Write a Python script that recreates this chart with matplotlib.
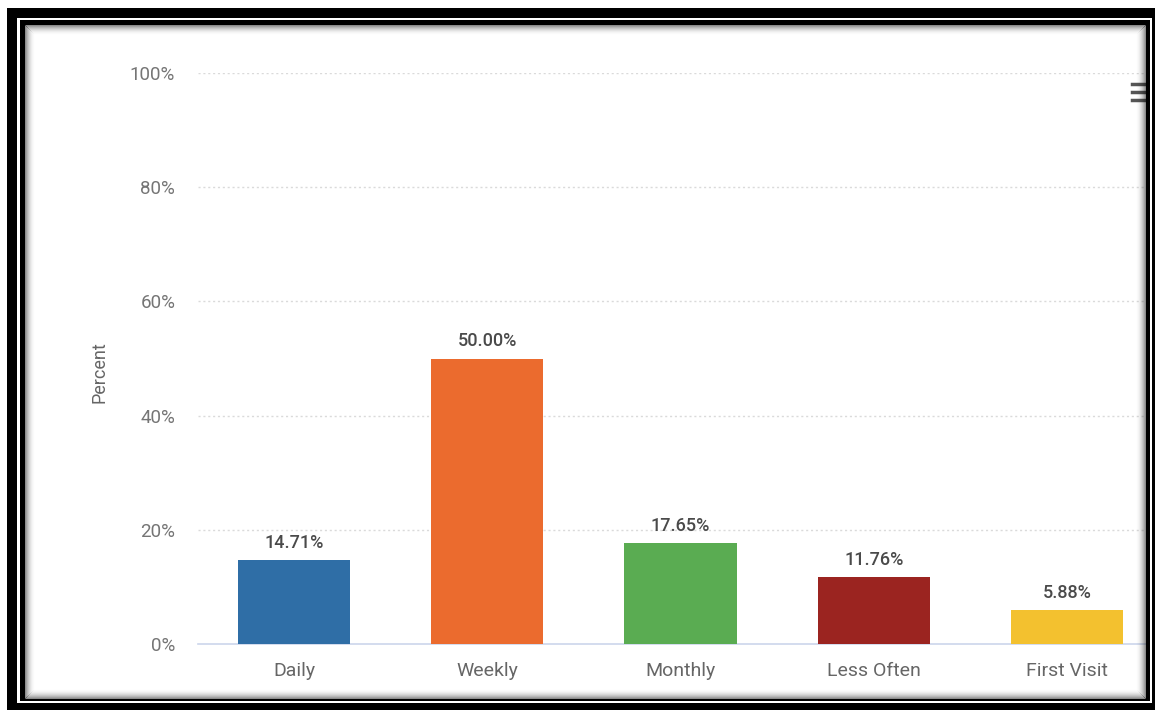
import matplotlib
matplotlib.use("Agg")
from matplotlib import pyplot as plt
from matplotlib.patches import Rectangle
from matplotlib.lines import Line2D

categories = ["Daily", "Weekly", "Monthly", "Less Often", "First Visit"]
percents = [14.71, 50.00, 17.65, 11.76, 5.88]
colors = ["#2f6ea6", "#eb6b2e", "#5aac52", "#9b2420", "#f3c12f"]
yticks = [0, 20, 40, 60, 80, 100]

plt.rcParams['font.family'] = ['Roboto', 'DejaVu Sans']

W, H = 1155, 710
fig = plt.figure(figsize=(W / 100, H / 100), dpi=100)
fig.patch.set_facecolor("white")


def px_rect(x0, y0, x1, y1, color, alpha=1.0):
    # rectangle in pixel coords measured from the top-left corner
    fig.add_artist(Rectangle((x0 / W, 1 - y1 / H), (x1 - x0) / W, (y1 - y0) / H,
                             transform=fig.transFigure, facecolor=color,
                             edgecolor="none", alpha=alpha, zorder=5))


ax_left, ax_right, ax_top, ax_bot = 197.5, 1163.5, 73, 644
ax = fig.add_axes([ax_left / W, 1 - ax_bot / H, (ax_right - ax_left) / W, (ax_bot - ax_top) / H])

x = range(len(categories))
bars = ax.bar(x, percents, width=0.58, color=colors, zorder=3)
for xi, v in zip(x, percents):
    ax.annotate(f"{v:.2f}%", (xi, v), xytext=(0, 6), textcoords="offset points",
                ha="center", va="bottom", fontsize=13, color="#4a4a4a", fontweight="medium")

ax.set_xlim(-0.5, len(categories) - 0.5)
ax.set_ylim(0, 100)
ax.set_yticks(yticks)
ax.set_yticklabels([f"{t}%" for t in yticks])
ax.set_xticks(list(x))
ax.set_xticklabels(categories)
ax.tick_params(axis="y", length=0, pad=16, labelsize=13.5, labelcolor="#757575")
ax.tick_params(axis="x", length=0, pad=13, labelsize=14, labelcolor="#666666")
for t in yticks[1:]:
    ax.axhline(t, color="#dadada", lw=1.0, ls=(0, (1.5, 2)), zorder=1)
for s in ["top", "right", "left"]:
    ax.spines[s].set_visible(False)
ax.spines["bottom"].set_color("#ccd6eb")
ax.spines["bottom"].set_linewidth(1.2)

fig.text(100 / W, 1 - 372 / H, "Percent", rotation=90, ha="center", va="center",
         fontsize=13, color="#666666")

# hamburger menu icon
for yy in [84, 92, 100]:
    fig.add_artist(Line2D([1132 / W, 1145 / W], [1 - yy / H, 1 - yy / H],
                          transform=fig.transFigure, color="#555555", lw=2.5, zorder=4))

# screenshot frame: white margin, thick black border, thin inner line, shadow
px_rect(0, 0, W, 8, "white")
px_rect(0, 0, 7, H, "white")
px_rect(1146, 0, W, H, "white")
px_rect(7, 8, W, 18, "black")
px_rect(7, 8, 17, H, "black")
px_rect(1152, 8, W, H, "black")
px_rect(7, 703, W, H, "black")
px_rect(17, 18, 1152, 20, "white")
px_rect(17, 18, 20, 703, "white")
px_rect(1150, 18, 1152, 703, "white")
px_rect(17, 701, 1152, 703, "white")
for i in range(10):
    a = 0.45 * (1 - i / 10) ** 2
    px_rect(25 + i, 25 + i, 26 + i, 699 - i, "black", a)
    px_rect(25 + i, 25 + i, 1146 - i, 26 + i, "black", a)
    px_rect(1145 - i, 25 + i, 1146 - i, 699 - i, "black", a)
    px_rect(25 + i, 698 - i, 1146 - i, 699 - i, "black", a)
px_rect(20, 20, 1150, 25, "black")
px_rect(20, 20, 25, 701, "black")
px_rect(1146, 20, 1150, 701, "black")
px_rect(20, 699, 1150, 701, "black")

fig.savefig("out.png", dpi=100)
